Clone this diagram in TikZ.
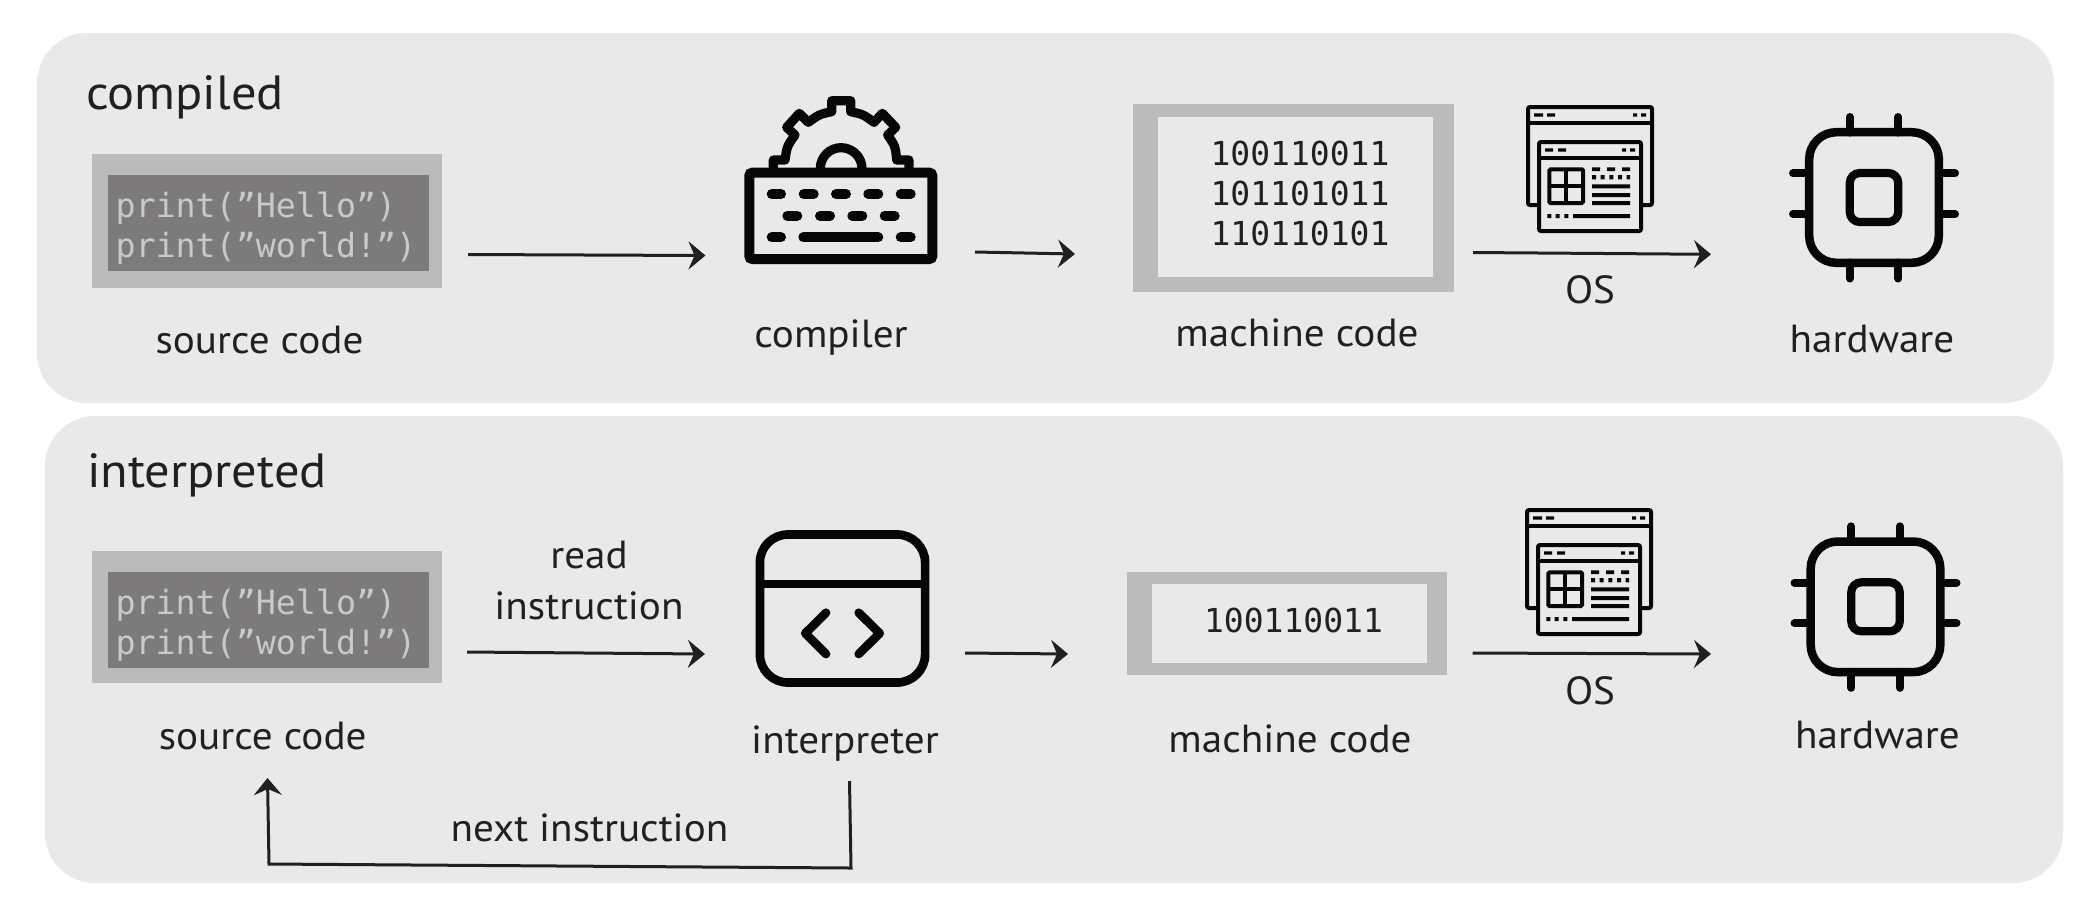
\documentclass[tikz,border=0pt]{standalone}
\usepackage{fontspec}
\setmainfont[FakeStretch=1.05]{PT Sans}
\newfontfamily\codefont{DejaVu Sans Mono}
\usetikzlibrary{arrows.meta,calc}
\definecolor{panelgrey}{HTML}{E9E9E9}
\definecolor{frameg}{HTML}{BBBBBB}
\definecolor{codebg}{HTML}{7C7A7B}
\definecolor{codefg}{HTML}{C9C9C9}
\definecolor{inkc}{HTML}{231F20}
\definecolor{iconc}{HTML}{050606}
\tikzset{
  panel/.style={fill=panelgrey,rounded corners=25pt,outer sep=0pt,inner sep=0pt},
  framebox/.style={fill=frameg,outer sep=0pt,inner sep=0pt},
  darkbox/.style={fill=codebg,outer sep=0pt,inner sep=0pt},
  lightbox/.style={fill=panelgrey,outer sep=0pt,inner sep=0pt},
  lbl/.style={anchor=base,inner sep=0pt,outer sep=0pt,text=inkc,font=\fontsize{19.6}{23}\selectfont},
  heading/.style={anchor=base,inner sep=0pt,outer sep=0pt,text=inkc,font=\fontsize{24}{28}\selectfont},
  srctext/.style={anchor=base west,inner sep=0pt,outer sep=0pt,text=codefg,font=\codefont\fontsize{16.65}{20}\selectfont},
  bintext/.style={anchor=base,inner sep=0pt,outer sep=0pt,text=inkc,font=\codefont\fontsize{16.5}{20}\selectfont},
  flow/.style={draw=inkc,line width=1.5pt,-{Stealth[length=8.5pt,width=14pt,inset=3pt]}},
  iconbody/.style={draw=iconc,outer sep=0pt,inner sep=0pt},
  icontrace/.style={draw=iconc,line cap=round,line join=round},
  chipic/.pic={
    \node[iconbody,line width=4.25pt,rounded corners=13.5pt,minimum width=64.8pt,minimum height=65.3pt] (-body) at (0,0) {};
    \node[iconbody,line width=4.1pt,rounded corners=5pt,minimum width=24.25pt,minimum height=24.5pt] (-core) at (0,0) {};
    \foreach \px in {-24.3,24.3}{
      \draw[icontrace,line width=4pt] (\px,-65) -- (\px,-80.5);
      \draw[icontrace,line width=4pt] (\px,65) -- (\px,81);}
    \foreach \py in {-24.2,16.5}{
      \draw[icontrace,line width=4pt] (-65,\py) -- (-81,\py);
      \draw[icontrace,line width=4pt] (65,\py) -- (81,\py);}
  },
  osic/.pic={
    \begin{scope}[shift={(-1526,-105)}]
    \draw[iconc,line width=2pt,fill=panelgrey,rounded corners=1pt] (1528,107) rectangle (1652,205);
    \draw[iconc,line width=2pt] (1528,122.7) -- (1652,122.7);
    \fill[iconc] (1534,113.3) rectangle (1543,116.7) (1547,113.3) rectangle (1555,116.7)
      (1633,113.3) rectangle (1637,116.7) (1641,113.3) rectangle (1646,116.7);
    \draw[iconc,line width=2pt,fill=panelgrey,rounded corners=1pt] (1539,142) rectangle (1641,231);
    \draw[iconc,line width=2pt] (1539,158) -- (1641,158);
    \fill[iconc] (1545,148.3) rectangle (1553,151.7) (1558,148.3) rectangle (1566,151.7)
      (1622,148.3) rectangle (1626,151.7) (1630,148.3) rectangle (1635,151.7);
    \draw[iconc,line width=2pt,rounded corners=0.6pt] (1549.3,169.3) rectangle (1583,203);
    \draw[iconc,line width=2pt] (1566,169.3) -- (1566,203) (1549.3,186) -- (1583,186);
    \fill[iconc] (1592,167.3) rectangle (1600,171) (1607,167.3) rectangle (1615,171) (1622,167.3) rectangle (1630,171);
    \fill[iconc] (1592,175) rectangle (1596,179.3) (1600.7,175) rectangle (1604.7,179.3)
      (1609.3,175) rectangle (1613.3,179.3) (1618,175) rectangle (1622,179.3) (1626.7,175) rectangle (1630,179.3);
    \fill[iconc] (1592,184.3) rectangle (1630,188.3) (1592,193) rectangle (1630,197) (1592,201) rectangle (1630,205);
    \fill[iconc] (1547.3,214) rectangle (1551.3,218) (1555.7,214) rectangle (1559.7,218)
      (1564.3,214) rectangle (1568.3,218) (1573,214) rectangle (1630,218);
    \end{scope}
  },
}
\begin{document}
\begin{tikzpicture}[x=0.5pt,y=-0.5pt]
\useasboundingbox[fill=white] (0,0) rectangle (2091,912);
% panels
\node[panel,minimum width=1008.5pt,minimum height=185pt] (panelA) at (1045.5,218) {};
\node[panel,minimum width=1009pt,minimum height=233.5pt] (panelB) at (1054,649.5) {};
\node[heading] (hdA) at (185,109) {compiled};
\node[heading] (hdB) at (207,487) {interpreted};
% top row
\node[framebox,minimum width=175pt,minimum height=67pt] (srcA) at (267,221) {};
\node[darkbox,minimum width=160.5pt,minimum height=48pt] (srcAin) at (268.5,223) {};
\node[srctext] (srcAa) at (115.5,217) {print(”Hello”)};
\node[srctext] (srcAb) at (115.5,257) {print(”world!”)};
\node[lbl] (lblsrcA) at (259.5,353) {source code};
% compiler icon
\node[iconbody,line width=5pt,rounded corners=1.5pt,minimum width=91.5pt,minimum height=43.15pt] (kb) at (840.8,215.85) {};
\begin{scope}[shift={(720,80)},scale=1/3]
\draw[icontrace,line width=4.6pt] (160,263) -- (160,240) -- (195,240) .. controls (201,198.8) .. (225,165) -- (200,142) -- (238,100) -- (265,127) .. controls (297,103.4) .. (335,95) -- (335,62) -- (392,62) -- (392,95) .. controls (430,103.4) .. (462,127) -- (487,100) -- (527,142) -- (503,165) .. controls (526,198.8) .. (530,240) -- (567,240) -- (567,263);
\draw[icontrace,line width=4.6pt] (301,265) .. controls (301,231) and (329,203) .. (363,203) .. controls (397,203) and (426,231) .. (426,265);
\end{scope}
\begin{scope}[icontrace,line width=5pt]
\draw (771.7,194) -- (781,194) (803.7,194) -- (813.7,194) (836,194) -- (846,194) (868.3,194) -- (878.3,194) (900.7,194) -- (910.7,194);
\draw (787.3,215.7) -- (797.3,215.7) (820,215.7) -- (830,215.7) (852.3,215.7) -- (862.3,215.7) (884.7,215.7) -- (894.7,215.7);
\draw (771.7,237.3) -- (781,237.3) (803.3,237.3) -- (878.3,237.3) (900.7,237.3) -- (910.7,237.3);
\end{scope}
\node[lbl] (lblcomp) at (831,347) {compiler};
% machine code top
\node[framebox,minimum width=160.5pt,minimum height=94pt] (machA) at (1293.5,198) {};
\node[lightbox,minimum width=137.5pt,minimum height=80pt] (machAin) at (1295.5,197) {};
\node[bintext] (binAa) at (1300,165) {100110011};
\node[bintext] (binAb) at (1300,205) {101101011};
\node[bintext] (binAc) at (1300,245) {110110101};
\node[lbl] (lblmachA) at (1297,346) {machine code};
% OS + chip top
\pic (osA) at (1526,105) {osic};
\pic (chipA) at (1874,197.5) {chipic};
\node[lbl] (lblosA) at (1590,303) {OS};
\node[lbl] (lblhwA) at (1872,352) {hardware};
% bottom row
\node[framebox,minimum width=175pt,minimum height=66pt] (srcB) at (267,617) {};
\node[darkbox,minimum width=160.5pt,minimum height=48pt] (srcBin) at (268.5,619.5) {};
\node[srctext] (srcBa) at (115.5,614) {print(”Hello”)};
\node[srctext] (srcBb) at (115.5,654) {print(”world!”)};
\node[lbl] (lblsrcB) at (262.7,749.5) {source code};
% interpreter icon
\node[iconbody,line width=4.35pt,rounded corners=14pt,minimum width=82.6pt,minimum height=74pt] (code) at (842.5,608.5) {};
\draw[iconc,line width=4.35pt] (760,584) -- (925,584);
\draw[icontrace,line width=4.35pt] (826,612.7) -- (805.3,633.3) -- (826,654);
\draw[icontrace,line width=4.35pt] (858.7,612.7) -- (879.7,633.3) -- (858.7,654);
\node[lbl] (lblint) at (845,753.5) {interpreter};
\node[lbl] (lblread) at (589,568) {read};
\node[lbl] (lblinstr) at (589,619) {instruction};
\node[lbl] (lblnext) at (589.5,841) {next instruction};
% machine code bottom
\node[framebox,minimum width=160pt,minimum height=51.5pt] (machB) at (1287,623.5) {};
\node[lightbox,minimum width=137.5pt,minimum height=39.5pt] (machBin) at (1289.5,623.5) {};
\node[bintext] (binBa) at (1293.5,632) {100110011};
\node[lbl] (lblmachB) at (1290,752.5) {machine code};
\pic (osB) at (1525,508) {osic};
\pic (chipB) at (1875.5,606.8) {chipic};
\node[lbl] (lblosB) at (1590,704) {OS};
\node[lbl] (lblhwB) at (1877.5,748) {hardware};
% connectors
\draw[flow] ($(srcA.east)+(26,33.5)$) -- ($(kb.west)+(-43.8,39.65)$);
\draw[flow] ($(kb.east)+(42.7,36.15)$) -- ($(machA.west)+(-58,56)$);
\draw[flow] ($(machA.east)+(19,54.5)$) -- ($(chipA-body.west)+(-98.2,56.8)$);
\draw[flow] ($(srcB.east)+(25,35)$) -- ($(code.west)+(-55,45.5)$);
\draw[flow] ($(code.east)+(40,44.5)$) -- ($(machB.west)+(-59,30.5)$);
\draw[flow] ($(machB.east)+(25.5,29.5)$) -- ($(chipB-body.west)+(-99.7,47.2)$);
\coordinate (backR) at (851,868);
\coordinate (backL) at (269,864);
\draw[flow] ($(code.south)+(7,98.5)$) -- (backR) -- (backL) -- ($(srcB.south)+(0.5,95)$);
\end{tikzpicture}
\end{document}
